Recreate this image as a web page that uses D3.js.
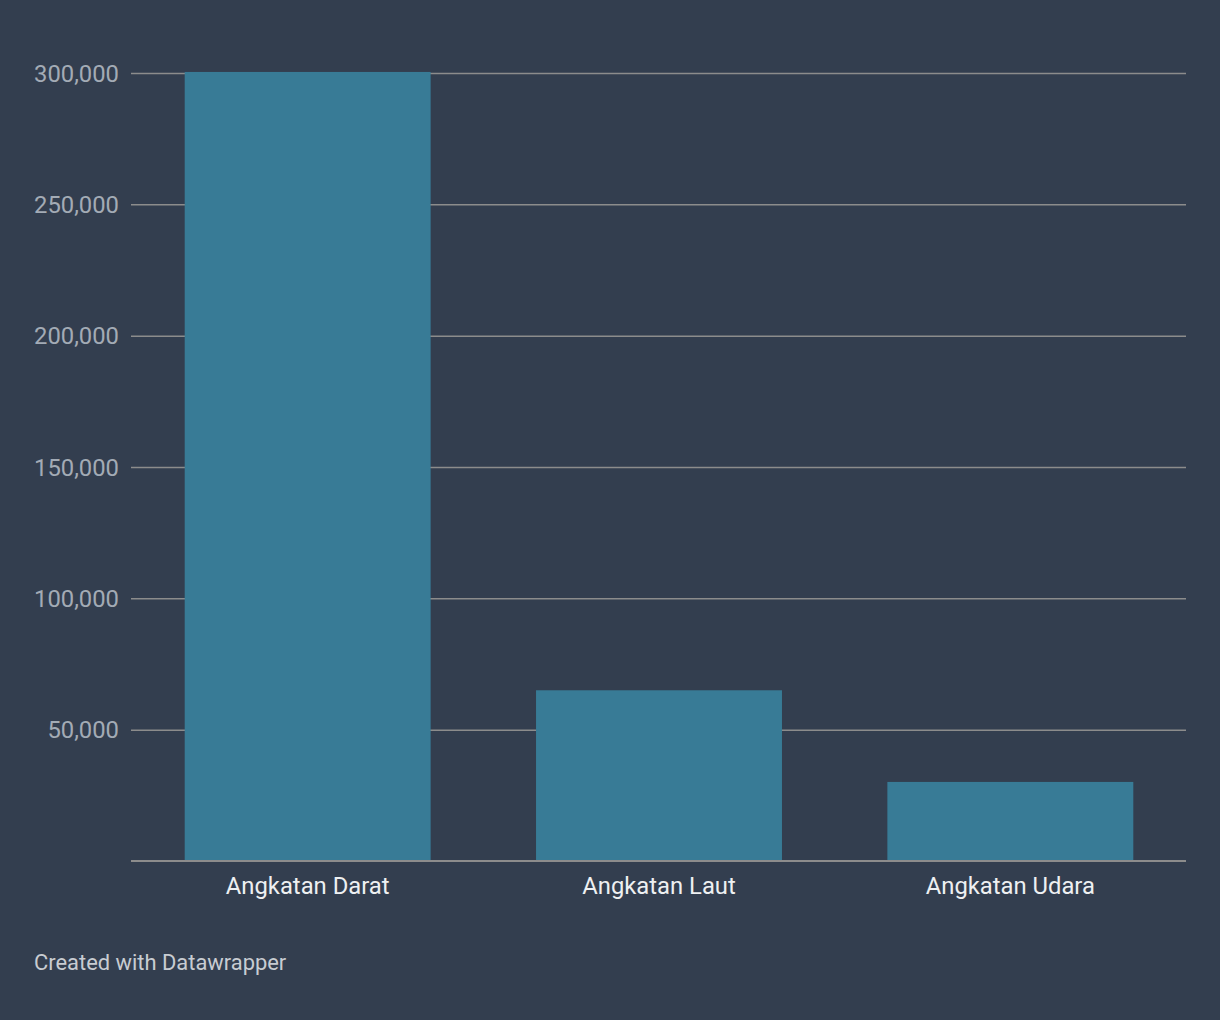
<!DOCTYPE html>
<html><head><meta charset="utf-8">
<script src="https://cdn.jsdelivr.net/npm/d3@7"></script>
<style>
html,body{margin:0;padding:0;background:#333e4f;}
svg{display:block;font-family:Roboto,"Noto Sans",sans-serif;}
</style></head>
<body>
<svg id="c" width="1220" height="1020"></svg>
<script>
const categories = ["Angkatan Darat", "Angkatan Laut", "Angkatan Udara"];
const values = [300400, 65000, 30100];
const tickValues = [50000, 100000, 150000, 200000, 250000, 300000];
const footer = "Created with Datawrapper";

const FONT = "Roboto, 'Noto Sans', sans-serif";
const svg = d3.select("#c");
svg.append("rect").attr("width",1220).attr("height",1020).attr("fill","#333e4f");

const x0 = 131, x1 = 1186, yTop = 73, yBase = 861;
const y = d3.scaleLinear().domain([0,300000]).range([yBase, yTop]);
const x = d3.scaleBand().domain(categories).range([x0+1, x1]).paddingInner(0.3).paddingOuter(0.15);

// grid
const grid = svg.append("g").attr("transform",`translate(${x0},0)`)
  .call(d3.axisLeft(y).tickValues(tickValues).tickSize(-(x1-x0)).tickFormat(d3.format(",")));
grid.attr("font-family", FONT).attr("font-size", 23.8);
grid.select(".domain").remove();
grid.selectAll(".tick line").attr("stroke","#8c8c8c").attr("stroke-width",1.5);
grid.selectAll(".tick text").attr("x",-12).attr("fill","#a3abb5").attr("dy","0.34em");

// bars
svg.append("g").selectAll("rect").data(categories).join("rect")
  .attr("x", d => x(d)).attr("width", x.bandwidth())
  .attr("y", (d,i) => y(values[i])).attr("height", (d,i) => yBase - y(values[i]))
  .attr("fill","#387b96");

// baseline
svg.append("line").attr("x1",x0).attr("x2",x1).attr("y1",yBase).attr("y2",yBase)
  .attr("stroke","#8c8c8c").attr("stroke-width",2);

// x labels
const xa = svg.append("g").attr("transform",`translate(0,${yBase})`)
  .call(d3.axisBottom(x).tickSize(0));
xa.attr("font-family", FONT).attr("font-size", 23.8);
xa.select(".domain").remove();
xa.selectAll(".tick text").attr("fill","#eef0f2").attr("y",16).attr("dy","0.71em");

svg.append("text").attr("x",34).attr("y",970).attr("fill","#c8ccd2")
  .attr("font-family", FONT).attr("font-size",21.9).text(footer);
</script>
</body></html>
